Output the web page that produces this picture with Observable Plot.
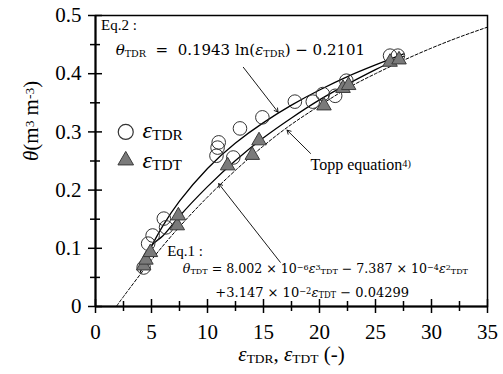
<!DOCTYPE html>
<html><head><meta charset="utf-8">
<script src="https://cdn.jsdelivr.net/npm/d3@7"></script>
<script src="https://cdn.jsdelivr.net/npm/@observablehq/plot@0.6"></script>
<style>body{margin:0;background:#fff}svg{display:block}</style>
</head><body><div id="chart"></div>
<script>
// Measured points (TDR: open circles, TDT: grey triangles)
const epsTDR   = [4.3, 4.7, 5.1, 6.1, 6.3, 10.8, 10.9, 11.0, 12.3, 12.9, 14.9, 17.8, 19.4, 20.3, 21.4, 22.4, 26.3, 27.0];
const thetaTDR = [0.067, 0.108, 0.122, 0.151, 0.136, 0.259, 0.273, 0.282, 0.256, 0.306, 0.325, 0.352, 0.352, 0.365, 0.362, 0.388, 0.431, 0.431];
const epsTDT   = [4.3, 4.5, 4.9, 7.3, 7.4, 11.8, 14.0, 14.6, 20.4, 22.1, 22.6, 26.3, 27.1];
const thetaTDT = [0.070, 0.080, 0.093, 0.139, 0.156, 0.242, 0.260, 0.285, 0.345, 0.375, 0.380, 0.420, 0.424];

// Fitted curves
const fitEps      = [4, 5, 6, 7.5, 10, 12.5, 15, 17.5, 20, 22.5, 25, 27.5];
const fitTDR      = [0.059, 0.103, 0.138, 0.181, 0.237, 0.281, 0.316, 0.346, 0.372, 0.395, 0.415, 0.434];
const fitTDT      = [0.072, 0.105, 0.121, 0.155, 0.206, 0.251, 0.290, 0.324, 0.355, 0.382, 0.407, 0.430];
const toppEps     = [1.9, 2.5, 5, 7.5, 10, 12.5, 15, 17.5, 20, 22.5, 25, 27.5, 30, 32.5, 35];
const toppTheta   = [0.001, 0.017, 0.080, 0.137, 0.188, 0.234, 0.276, 0.313, 0.345, 0.375, 0.400, 0.423, 0.444, 0.463, 0.480];

// Axes
const xTicks = [0, 5, 10, 15, 20, 25, 30, 35];
const xMinor = [2.5, 7.5, 12.5, 17.5, 22.5, 27.5, 32.5];
const yTicks = [0, 0.1, 0.2, 0.3, 0.4, 0.5];
const yTickLabels = ["0", "0.1", "0.2", "0.3", "0.4", "0.5"];
const yMinor = [0.05, 0.15, 0.25, 0.35, 0.45];

// Texts
const xLabel = "ε_{TDR}, ε_{TDT} (-)";
const yLabel = "θ(m^{3} m^{-3})";
const legendLabels = ["ε_{TDR}", "ε_{TDT}"];
const eq2Lines = ["Eq.2 :", "θ_{TDR}  =  0.1943 ln(ε_{TDR}) − 0.2101"];
const eq1Lines = ["Eq.1 :", "θ_{TDT} = 8.002 × 10^{−6}ε^{3}_{TDT} − 7.387 × 10^{−4}ε^{2}_{TDT}", "+3.147 × 10^{−2}ε_{TDT} − 0.04299"];
const toppLabel = "Topp equation^{4)}";

const serif = "'Liberation Serif', 'Times New Roman', serif";
const mathFont = "'DejaVu Serif', 'Liberation Serif', serif";
const idx = a => d3.range(a.length);

const plot = Plot.plot({
  width: 503, height: 374,
  marginTop: 15, marginRight: 16, marginBottom: 68, marginLeft: 95,
  x: {domain: [0, 35], axis: null},
  y: {domain: [0, 0.5], axis: null},
  style: {background: "white"},
  marks: [
    Plot.frame({stroke: "#000", strokeWidth: 1.5}),
    Plot.ruleY([0], {stroke: "#000", strokeWidth: 2}),
    Plot.ruleX([0], {stroke: "#000", strokeWidth: 2}),
    // ticks crossing the axes
    Plot.ruleX(xTicks, {x: d => d, y1: () => 0, y2: () => 0, insetTop: -7, insetBottom: -7, stroke: "#000", strokeWidth: 1.5}),
    Plot.ruleX(xMinor, {x: d => d, y1: () => 0, y2: () => 0, insetTop: -5, insetBottom: -5, stroke: "#000", strokeWidth: 1.5}),
    Plot.ruleY(yTicks, {y: d => d, x1: () => 0, x2: () => 0, insetLeft: -7, insetRight: -7, stroke: "#000", strokeWidth: 1.5}),
    Plot.ruleY(yMinor, {y: d => d, x1: () => 0, x2: () => 0, insetLeft: -5, insetRight: -5, stroke: "#000", strokeWidth: 1.5}),
    // tick labels
    Plot.text(xTicks, {x: d => d, y: () => 0, text: d => String(d), dy: 26, fontSize: 21, fontFamily: serif, fill: "#000"}),
    Plot.text(idx(yTicks), {x: () => 0, y: i => yTicks[i], text: i => yTickLabels[i], dx: -14, textAnchor: "end", fontSize: 21, fontFamily: serif, fill: "#000"}),
    // axis titles
    Plot.text([xLabel], {frameAnchor: "bottom", text: d => d, dy: 54, fontSize: 21, fontFamily: serif, fill: "#000"}),
    Plot.text([yLabel], {frameAnchor: "left", text: d => d, dx: -64, rotate: -90, fontSize: 21, fontFamily: serif, fill: "#000"}),
    // curves
    Plot.line(idx(toppEps), {x: i => toppEps[i], y: i => toppTheta[i], curve: "natural", stroke: "#000", strokeWidth: 1, strokeDasharray: "3,2"}),
    Plot.line(idx(fitEps), {x: i => fitEps[i], y: i => fitTDR[i], curve: "natural", stroke: "#000", strokeWidth: 1.3}),
    Plot.line(idx(fitEps), {x: i => fitEps[i], y: i => fitTDT[i], curve: "natural", stroke: "#000", strokeWidth: 1.3}),
    // data
    Plot.dot(idx(epsTDR), {x: i => epsTDR[i], y: i => thetaTDR[i], r: 6.8, fill: "none", stroke: "#333", strokeWidth: 1}),
    Plot.dot(idx(epsTDT), {x: i => epsTDT[i], y: i => thetaTDT[i], symbol: "triangle", r: 5.4, fill: "#7a7a7a", stroke: "#3a3a3a", strokeWidth: 1}),
    // legend
    Plot.dot([0], {x: () => 2.7, y: () => 0.300, r: 7.5, fill: "none", stroke: "#333", strokeWidth: 1.2}),
    Plot.dot([0], {x: () => 2.7, y: () => 0.251, symbol: "triangle", r: 5.8, fill: "#7a7a7a", stroke: "#3a3a3a", strokeWidth: 1}),
    Plot.text(idx(legendLabels), {x: () => 4.2, y: i => [0.302, 0.252][i], text: i => legendLabels[i], textAnchor: "start", fontSize: 24, fontFamily: serif, fill: "#000"}),
    // annotations
    Plot.arrow([0], {x1: () => 13.2, y1: () => 0.411, x2: () => 16.3, y2: () => 0.334, stroke: "#000", strokeWidth: 0.9, headLength: 7}),
    Plot.arrow([0], {x1: () => 19.2, y1: () => 0.263, x2: () => 17.1, y2: () => 0.303, stroke: "#000", strokeWidth: 0.9, headLength: 7}),
    Plot.arrow([0], {x1: () => 16.5, y1: () => 0.076, x2: () => 11.0, y2: () => 0.211, stroke: "#000", strokeWidth: 0.9, headLength: 7}),
    Plot.text([eq2Lines[0]], {x: () => 0.5, y: () => 0.484, text: d => d, textAnchor: "start", fontSize: 15, fontFamily: serif, fill: "#000"}),
    Plot.text([eq2Lines[1]], {x: () => 1.8, y: () => 0.440, text: d => d, textAnchor: "start", fontSize: 15, fontFamily: mathFont, fill: "#000"}),
    Plot.text([toppLabel], {x: () => 19.2, y: () => 0.243, text: d => d, textAnchor: "start", fontSize: 16, fontFamily: serif, fill: "#000"}),
    Plot.text([eq1Lines[0]], {x: () => 6.4, y: () => 0.095, text: d => d, textAnchor: "start", fontSize: 15, fontFamily: serif, fill: "#000"}),
    Plot.text([eq1Lines[1]], {x: () => 7.8, y: () => 0.065, text: d => d, textAnchor: "start", fontSize: 12.6, fontFamily: mathFont, fill: "#000"}),
    Plot.text([eq1Lines[2]], {x: () => 10.7, y: () => 0.024, text: d => d, textAnchor: "start", fontSize: 13, fontFamily: mathFont, fill: "#000"})
  ]
});

// Make each text's font explicit (inline style) so it wins over inherited defaults
plot.querySelectorAll("text").forEach(t => {
  const g = t.closest("[font-family]");
  if (g && g !== plot) t.style.fontFamily = g.getAttribute("font-family");
});

// Convert simple markup (_{sub}, ^{sup}, italic Greek) into SVG tspans
const NS = "http://www.w3.org/2000/svg";
plot.querySelectorAll("text").forEach(t => {
  const src = t.textContent;
  if (!/[_^θε]/.test(src)) return;
  t.textContent = "";
  const parts = src.split(/(_\{[^}]*\}|\^\{[^}]*\}|[θε])/).filter(s => s);
  parts.forEach(p => {
    const ts = document.createElementNS(NS, "tspan");
    if (p.startsWith("_{") || p.startsWith("^{")) {
      const sub = p[0] === "_";
      ts.textContent = p.slice(2, -1);
      ts.setAttribute("font-size", "64%");
      ts.setAttribute("baseline-shift", sub ? "-16%" : "32%");
    } else {
      ts.textContent = p;
      if (p === "θ" || p === "ε") ts.setAttribute("font-style", "italic");
    }
    t.appendChild(ts);
  });
});
document.getElementById("chart").appendChild(plot);
</script>
</body></html>
